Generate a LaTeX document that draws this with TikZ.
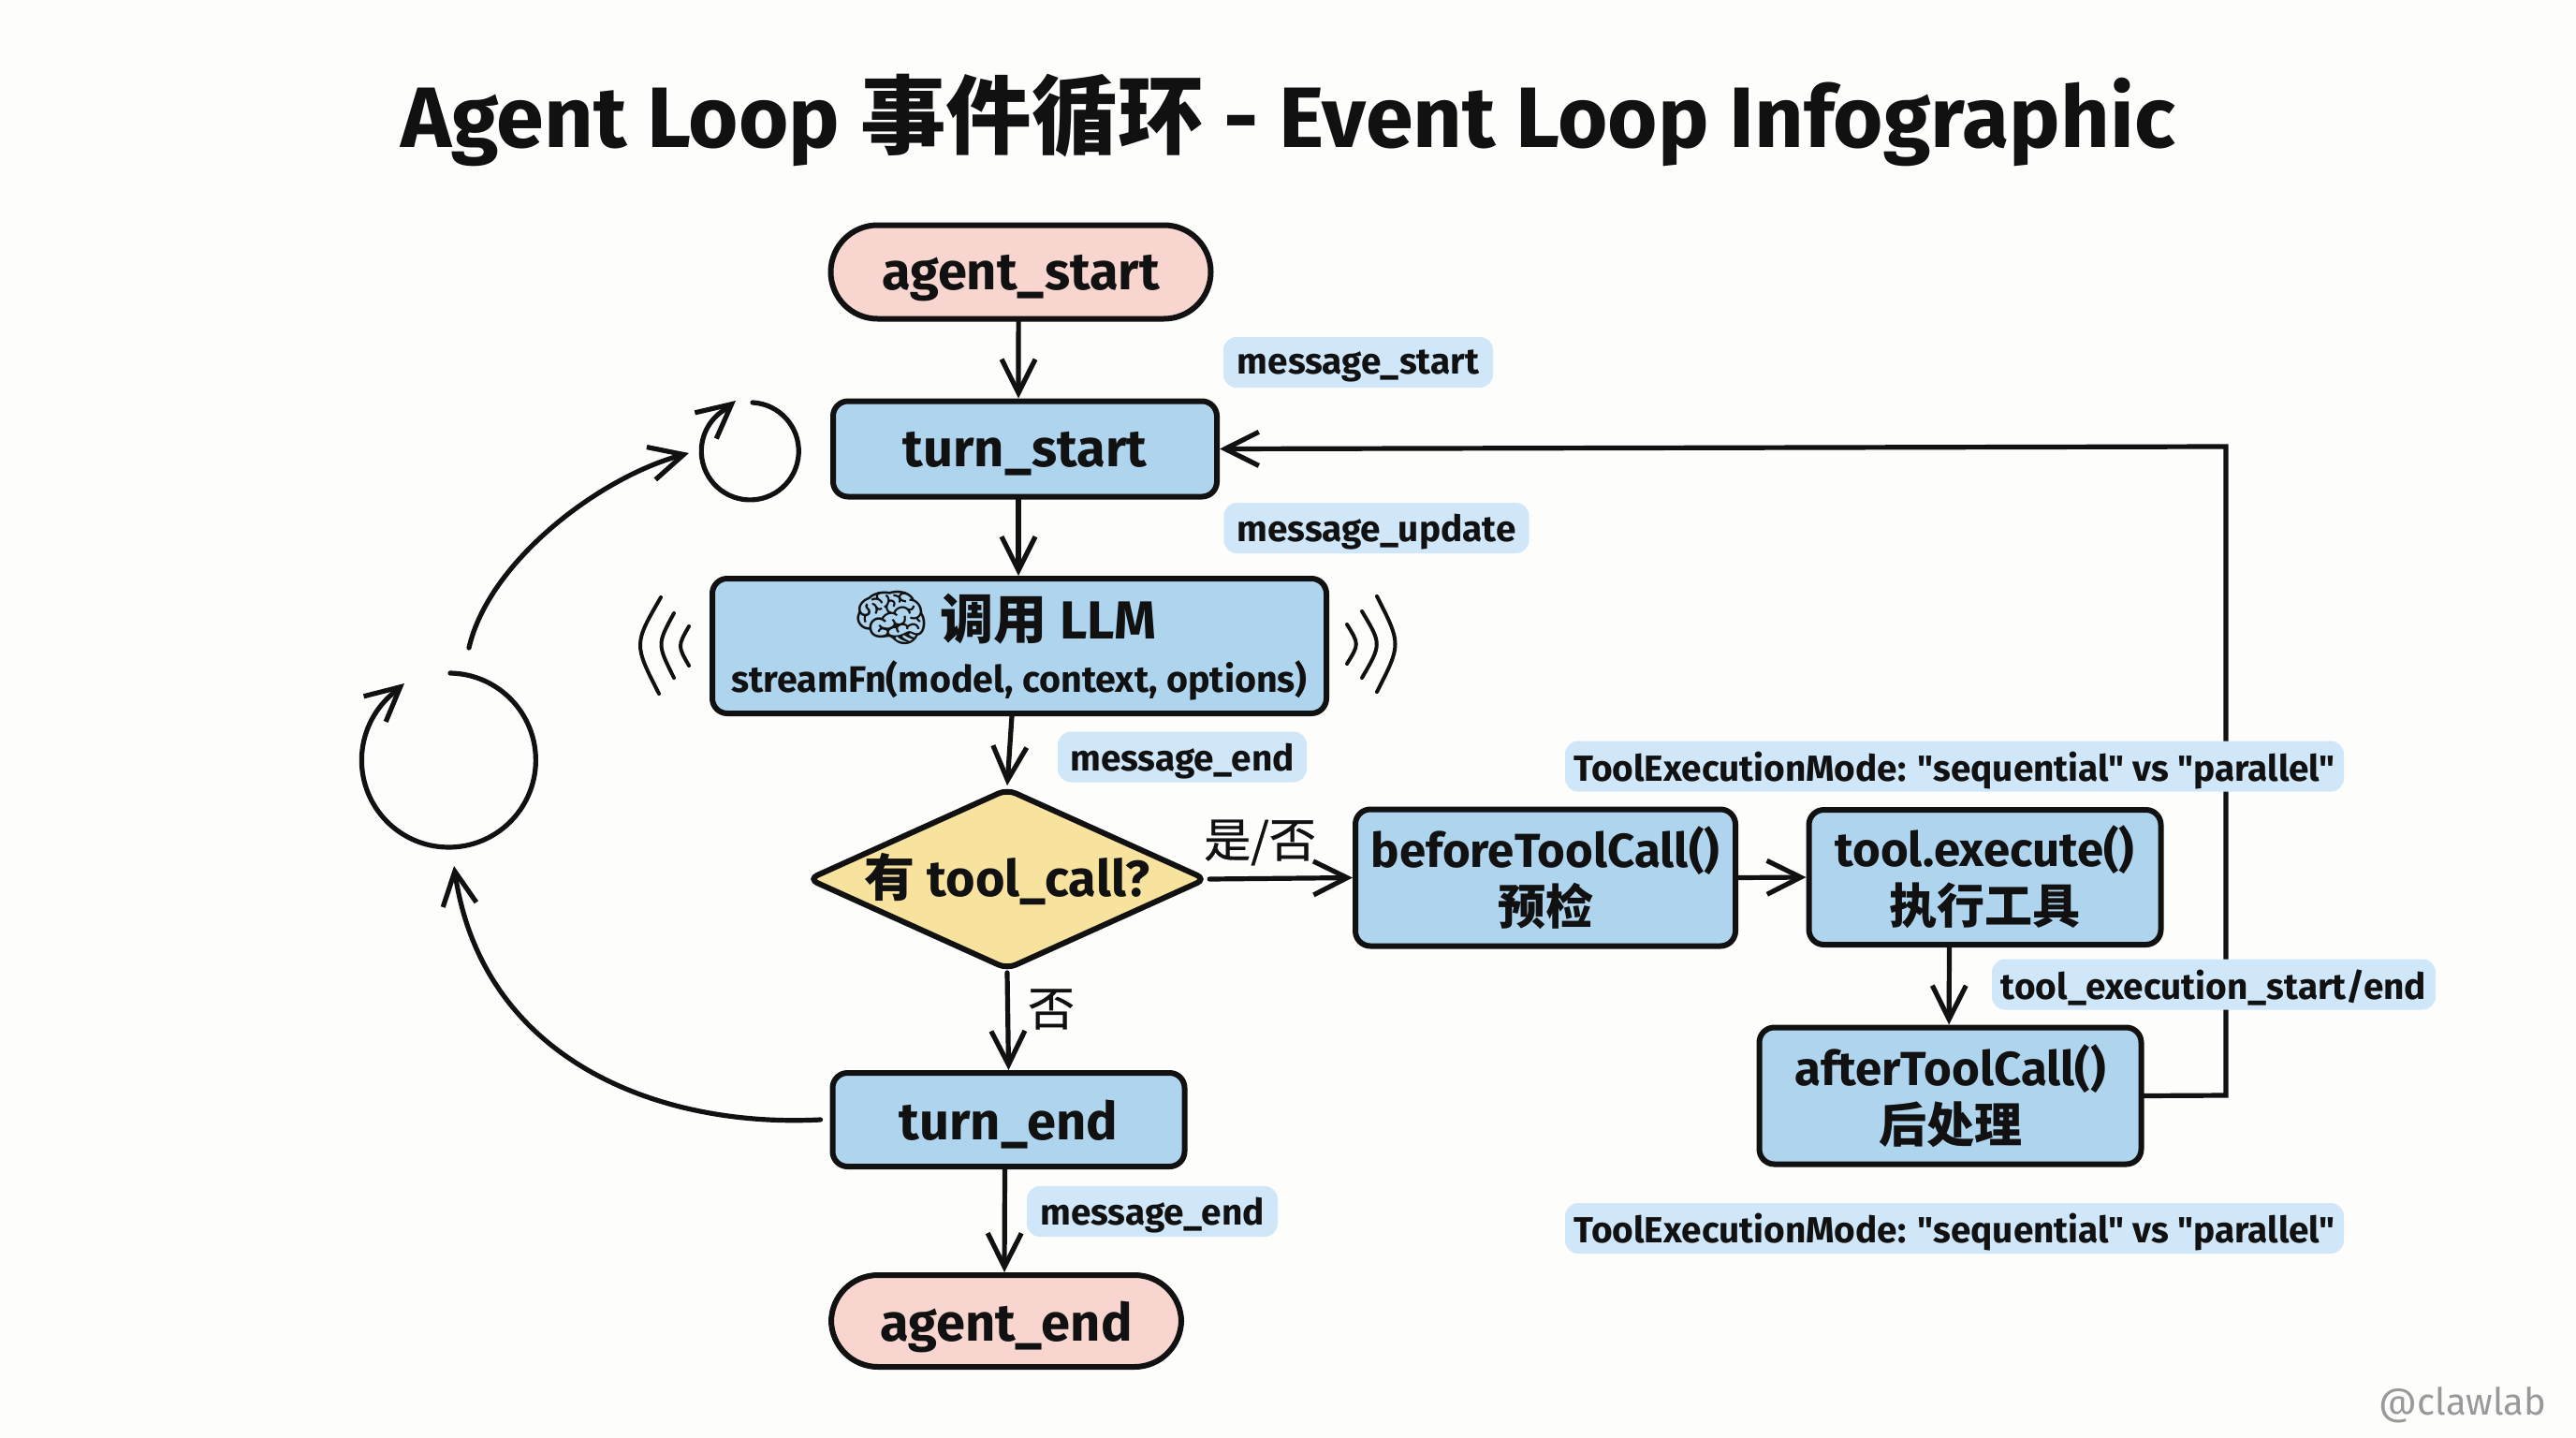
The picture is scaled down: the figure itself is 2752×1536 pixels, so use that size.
\documentclass[tikz,border=0pt]{standalone}
\usepackage{fontspec}
\usetikzlibrary{arrows.meta,shapes.geometric,calc}
\newfontfamily\hand{Fira Sans}
\newfontfamily\cjkf{Noto Sans CJK SC}
\newfontfamily\cjkm[FakeBold=0.6]{Noto Sans CJK SC}
\newfontfamily\emo{Noto Emoji}
\newcommand{\zh}[1]{{\cjkf\bfseries #1}}
\definecolor{ink}{HTML}{111111}
\definecolor{boxblue}{HTML}{AED4EE}
\definecolor{boxpink}{HTML}{F8D5CF}
\definecolor{boxyellow}{HTML}{F8E39E}
\definecolor{tagblue}{HTML}{CFE7F9}
\definecolor{paper}{HTML}{FDFDFC}
\tikzset{
  base/.style={draw=ink,line width=3pt,inner sep=0pt,align=center,text=ink,
    font=\hand\bfseries\fontsize{25.5}{30.5}\selectfont},
  bluebox/.style={base,fill=boxblue,rounded corners=8pt},
  bigtext/.style={font=\hand\bfseries\fontsize{28}{32}\selectfont,text depth=0pt},
  pinkpill/.style={base,bigtext,fill=boxpink,rounded corners=25pt},
  decision/.style={base,fill=boxyellow,diamond,rounded corners=5pt,aspect=2.2,
    minimum width=208pt,minimum height=95pt,font=\hand\bfseries\fontsize{27}{30}\selectfont},
  tag/.style={fill=tagblue,rounded corners=7pt,inner sep=0pt,text=ink,minimum height=27pt,
    text depth=0pt,font=\hand\bfseries\fontsize{19.4}{22}\selectfont},
  conn/.style={draw=ink,line width=2.6pt,line cap=round,line join=round,
    -{Straight Barb[length=18pt,width=18pt,line width=2.6pt]}},
  wave/.style={draw=ink,line width=2pt,line cap=round},
  edgetext/.style={inner sep=0pt,text=ink,font=\cjkm\fontsize{25}{28}\selectfont},
}
\begin{document}
\begin{tikzpicture}[x=0.5pt,y=-0.5pt]
\fill[paper] (0,0) rectangle (2752,1536);
\useasboundingbox (0,0) rectangle (2752,1536);

\node[inner sep=0pt,text=ink,font=\hand\bfseries\fontsize{45.8}{56}\selectfont] (title) at (1376,128)
  {Agent Loop \zh{事件循环} - Event Loop Infographic};

\node[pinkpill,minimum width=203pt,minimum height=50pt] (agentstart) at (1090.5,290.5) {agent\_start};
\node[bluebox,bigtext,minimum width=205pt,minimum height=51pt] (turnstart) at (1095,479.5) {turn\_start};
\node[bluebox,minimum width=328pt,minimum height=72pt] (llm) at (1089,690)
  {{\emo\fontsize{33}{32}\selectfont\symbol{"1F9E0}}\hspace{5pt}{\fontsize{28.6}{32}\selectfont\zh{调用} LLM}\rule{16pt}{0pt}\\[-2pt]{\fontsize{19.7}{24}\selectfont streamFn(model, context, options)}};
\node[decision] (decide) at (1076,939) {\zh{有} tool\_call?};
\node[bluebox,minimum width=203pt,minimum height=73pt] (before) at (1651,937.5) {beforeToolCall()\\\zh{预检}};
\node[bluebox,minimum width=188pt,minimum height=72pt] (exec) at (2120.5,937) {tool.execute()\\\zh{执行工具}};
\node[bluebox,minimum width=204pt,minimum height=73pt] (after) at (2083.5,1170.5) {afterToolCall()\\\zh{后处理}};
\node[bluebox,bigtext,minimum width=188pt,minimum height=50pt] (turnend) at (1077.5,1196) {turn\_end};
\node[pinkpill,minimum width=187pt,minimum height=49pt] (agentend) at (1075,1411) {agent\_end};

% connectors
\draw[conn] ([xshift=-1.2pt]agentstart.south) -- ([xshift=-3.5pt]turnstart.north);
\draw[conn] ([xshift=-3.5pt]turnstart.south) -- ([xshift=-.5pt]llm.north);
\draw[conn] ([xshift=-4pt]llm.south) -- (decide.north);
\draw[conn] (decide.south) -- (turnend.north);
\draw[conn] ([xshift=-2pt]turnend.south) -- ([xshift=-1pt]agentend.north);
\draw[conn] (decide.east) -- (before.west);
\draw[conn] (before.east) -- (exec.west);
\draw[conn] ([xshift=-19pt]exec.south) -- ([xshift=-.7pt]after.north);
\coordinate (fbcornerlow) at (2378,1170);
\coordinate (fbcornerhigh) at (2378,477);
\draw[conn,line join=miter] (after.east) -- (fbcornerlow) -- (fbcornerhigh) -- (turnstart.east);

% cycle symbols
\coordinate (smallstart) at (804,430);
\coordinate (smalltip) at (786,428);
\coordinate (bigstart) at (481,719);
\coordinate (bigtip) at (432,730);
\draw[conn] (smallstart) arc[start angle=87,end angle=-240,radius=26pt] -- (smalltip);
\draw[conn] (bigstart) arc[start angle=89,end angle=-229,radius=46.5pt] -- (bigtip);
\coordinate (upfrom) at (501,692);
\coordinate (uptip) at (736,484);
\draw[conn] (upfrom) .. controls (522,600) and (640,510) .. (uptip);
\coordinate (backtip) at (485,925);
\draw[conn] ([xshift=-5pt]turnend.west) .. controls (700,1205) and (515,1130) .. (backtip);

% signal waves
\draw[wave] (706,638) .. controls (677,688) .. (704,741);
\draw[wave] (720,655) .. controls (702,688) .. (720,724);
\draw[wave] (736,669) .. controls (724,690) .. (736,711);
\draw[wave] (1471,637) .. controls (1497,688) .. (1471,739);
\draw[wave] (1455,653) .. controls (1476,688) .. (1455,724);
\draw[wave] (1439,667) .. controls (1452,688) .. (1439,709);

% tags (they lie over the return line)
\node[tag,minimum width=144pt] (tagmsgstart) at (1451,387) {message\_start};
\node[tag,minimum width=163pt] (tagmsgupdate) at (1470.5,564) {message\_update};
\node[tag,minimum width=133pt] (tagmsgend) at (1263,808.5) {message\_end};
\node[tag,minimum width=416pt] (tagmodetop) at (2088,818.5) {ToolExecutionMode: "sequential" vs "parallel"};
\node[tag,minimum width=237pt] (tagtoolexec) at (2365,1051.5) {tool\_execution\_start/end};
\node[tag,minimum width=416pt] (tagmodebottom) at (2088,1312) {ToolExecutionMode: "sequential" vs "parallel"};
\node[tag,minimum width=134pt] (tagmsgendtwo) at (1231,1294) {message\_end};

\node[edgetext] (yesno) at (1346,900) {是/否};
\node[edgetext] (no) at (1123,1078) {否};
\node[inner sep=0pt,text=black!40,font=\hand\fontsize{20}{24}\selectfont] (mark) at (2631,1501) {@clawlab};
\end{tikzpicture}
\end{document}
